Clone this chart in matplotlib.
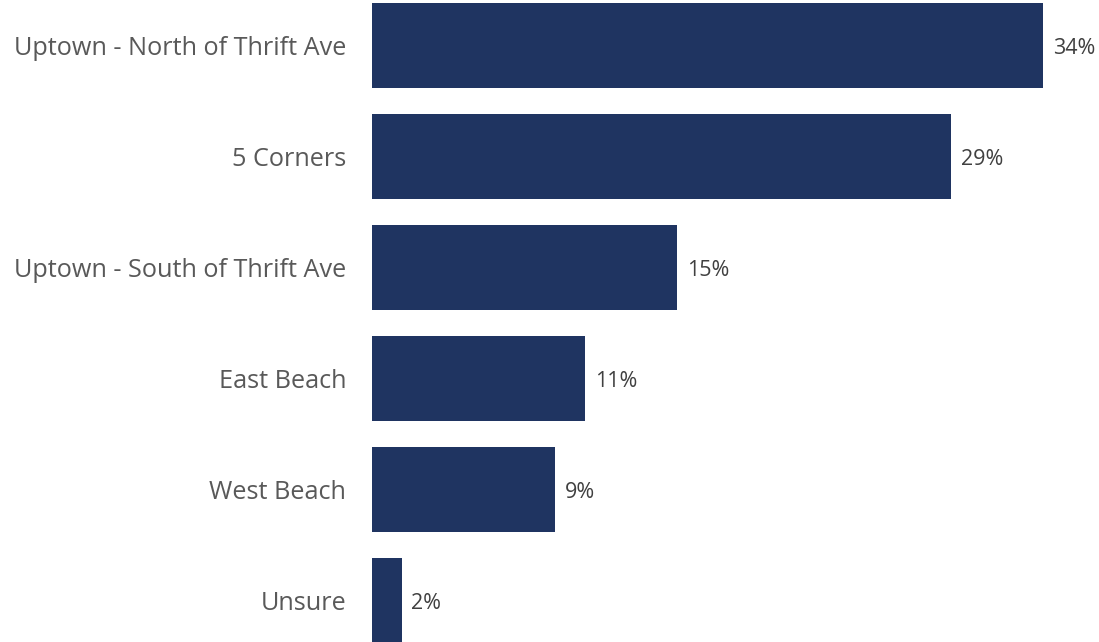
import matplotlib
matplotlib.use('Agg')
from matplotlib import pyplot as plt

categories = ['Uptown - North of Thrift Ave', '5 Corners', 'Uptown - South of Thrift Ave',
              'East Beach', 'West Beach', 'Unsure']
values = [34.0, 29.35, 15.45, 10.8, 9.25, 1.5]
labels = ['34%', '29%', '15%', '11%', '9%', '2%']

plt.rcParams['font.family'] = ['Open Sans', 'DejaVu Sans']

fig = plt.figure(figsize=(10.99, 6.42), dpi=100)
ax = fig.add_axes([372 / 1099, 0, 727 / 1099, 1])

y = list(range(len(categories)))
ax.barh(y, values, height=0.766, color='#1f3461')
for yi, v, lab in zip(y, values, labels):
    ax.text(v + 0.5, yi + 0.03, lab, va='center', ha='left', fontsize=15.5, color='#404040')

ax.set_yticks(y)
ax.set_yticklabels(categories, fontsize=18.2, color='#595959')
ax.tick_params(axis='y', length=0, pad=18.5)
ax.set_xticks([])
ax.set_xlim(0, 36.83)
ax.set_ylim(5.374, -0.41)
for s in ax.spines.values():
    s.set_visible(False)

fig.savefig('out.png', dpi=100)
